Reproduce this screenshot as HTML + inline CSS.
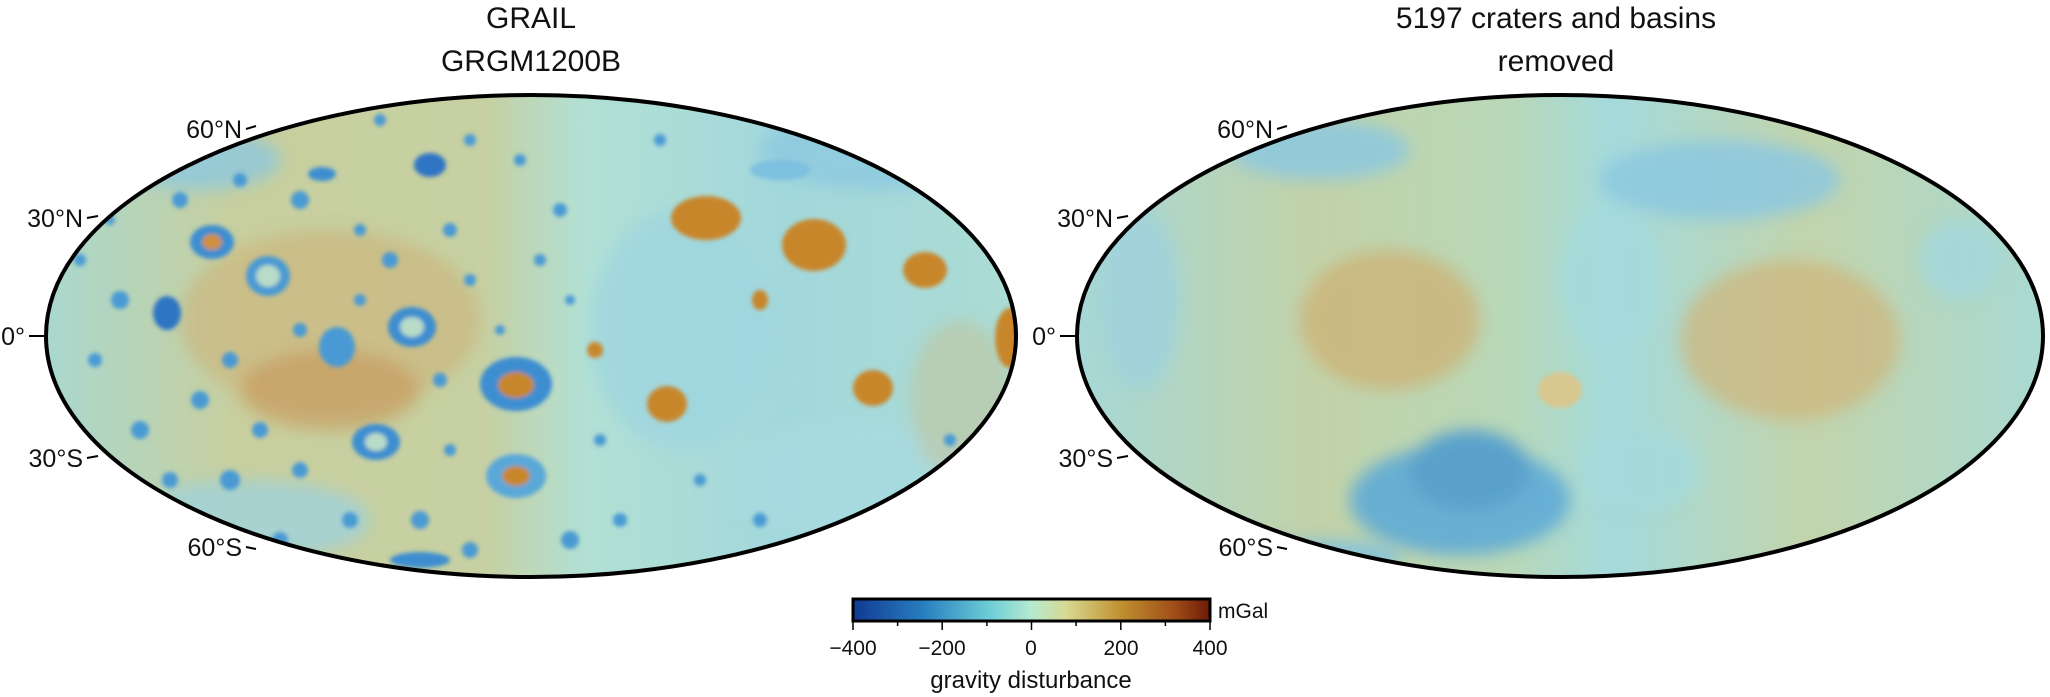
<!DOCTYPE html>
<html><head><meta charset="utf-8"><style>
html,body{margin:0;padding:0;background:#fff;}
svg{display:block;}
text{font-family:"Liberation Sans",sans-serif;fill:#111;}
</style></head><body>
<svg width="2050" height="697" viewBox="0 0 2050 697" xmlns="http://www.w3.org/2000/svg">
<defs>
<linearGradient id="cb" x1="0" x2="1" y1="0" y2="0">
<stop offset="0" stop-color="#0f3a93"/>
<stop offset="0.2" stop-color="#2a7fc0"/>
<stop offset="0.38" stop-color="#6bcdd6"/>
<stop offset="0.5" stop-color="#b5ead0"/>
<stop offset="0.6" stop-color="#d8d890"/>
<stop offset="0.75" stop-color="#c09030"/>
<stop offset="0.9" stop-color="#a04e18"/>
<stop offset="1" stop-color="#6e1a08"/>
</linearGradient>
<linearGradient id="lg1" x1="0" x2="1" y1="0" y2="0">
<stop offset="0" stop-color="#a8d8d0"/>
<stop offset="0.2" stop-color="#c8cf9e"/>
<stop offset="0.45" stop-color="#c6d0a2"/>
<stop offset="0.55" stop-color="#b2e0d4"/>
<stop offset="0.75" stop-color="#a2d8dc"/>
<stop offset="1" stop-color="#acdcd4"/>
</linearGradient>
<linearGradient id="lg2" x1="0" x2="1" y1="0" y2="0">
<stop offset="0" stop-color="#a6d8d8"/>
<stop offset="0.25" stop-color="#c2d2a8"/>
<stop offset="0.45" stop-color="#b8d8b8"/>
<stop offset="0.55" stop-color="#a4dadc"/>
<stop offset="0.75" stop-color="#c2d4ac"/>
<stop offset="1" stop-color="#a8dad4"/>
</linearGradient>
<filter id="bl"><feGaussianBlur stdDeviation="8"/></filter>
<filter id="bl2"><feGaussianBlur stdDeviation="2"/></filter>
<clipPath id="c1"><ellipse cx="531" cy="336" rx="485" ry="241"/></clipPath>
<clipPath id="c2"><ellipse cx="1560" cy="336" rx="483" ry="241"/></clipPath>
</defs>

<text x="531" y="28" font-size="30" text-anchor="middle">GRAIL</text>
<text x="531" y="71" font-size="30" text-anchor="middle">GRGM1200B</text>
<text x="1556" y="28" font-size="30" text-anchor="middle">5197 craters and basins</text>
<text x="1556" y="71" font-size="30" text-anchor="middle">removed</text>

<!-- Left map -->
<g clip-path="url(#c1)">
<rect x="40" y="90" width="990" height="495" fill="url(#lg1)"/>
<g filter="url(#bl)" opacity="0.8">
<ellipse cx="200" cy="160" rx="80" ry="30" fill="#8cc8e0"/>
<ellipse cx="880" cy="150" rx="120" ry="40" fill="#8cc8e0"/>
<ellipse cx="680" cy="330" rx="90" ry="120" fill="#9fd6e0"/>
<ellipse cx="250" cy="520" rx="120" ry="40" fill="#9fd2dc"/>
<ellipse cx="850" cy="480" rx="120" ry="60" fill="#a8dae0"/>
<ellipse cx="330" cy="320" rx="150" ry="90" fill="#cdb078" opacity="0.7"/>
<ellipse cx="330" cy="390" rx="90" ry="40" fill="#c89050" opacity="0.7"/>
<ellipse cx="960" cy="400" rx="50" ry="80" fill="#c8c090" opacity="0.6"/>
</g>
<g filter="url(#bl2)" fill="#4a9ad4">
<circle cx="120" cy="300" r="9"/><circle cx="95" cy="360" r="7"/><circle cx="140" cy="430" r="9"/>
<circle cx="180" cy="200" r="8"/><circle cx="240" cy="180" r="7"/><circle cx="300" cy="200" r="9"/>
<circle cx="360" cy="230" r="6"/><circle cx="390" cy="260" r="8"/><circle cx="450" cy="230" r="7"/>
<circle cx="470" cy="280" r="6"/><circle cx="440" cy="380" r="7"/><circle cx="360" cy="300" r="6"/>
<circle cx="300" cy="330" r="7"/><circle cx="230" cy="360" r="8"/><circle cx="200" cy="400" r="9"/>
<circle cx="260" cy="430" r="8"/><circle cx="300" cy="470" r="8"/><circle cx="230" cy="480" r="10"/>
<circle cx="170" cy="480" r="8"/><circle cx="350" cy="520" r="8"/><circle cx="420" cy="520" r="9"/>
<circle cx="470" cy="550" r="8"/><circle cx="570" cy="540" r="9"/><circle cx="620" cy="520" r="7"/>
<circle cx="600" cy="440" r="6"/><circle cx="470" cy="140" r="6"/><circle cx="520" cy="160" r="6"/>
<circle cx="560" cy="210" r="7"/><circle cx="540" cy="260" r="6"/><circle cx="80" cy="260" r="6"/>
<circle cx="110" cy="220" r="5"/><circle cx="700" cy="480" r="6"/><circle cx="760" cy="520" r="7"/>
<circle cx="820" cy="540" r="8"/><circle cx="900" cy="500" r="6"/><circle cx="950" cy="440" r="6"/>
<circle cx="660" cy="140" r="6"/><circle cx="380" cy="120" r="6"/><circle cx="500" cy="330" r="5"/>
<circle cx="570" cy="300" r="5"/><circle cx="450" cy="450" r="6"/><circle cx="280" cy="540" r="8"/>
</g>
<g filter="url(#bl2)">
<ellipse cx="706" cy="218" rx="35" ry="22" fill="#c8862a"/>
<ellipse cx="814" cy="245" rx="32" ry="26" fill="#c8862a"/>
<ellipse cx="925" cy="270" rx="22" ry="18" fill="#c8862a"/>
<ellipse cx="667" cy="404" rx="20" ry="18" fill="#c8862a"/>
<ellipse cx="873" cy="388" rx="20" ry="18" fill="#c8862a"/>
<ellipse cx="1010" cy="338" rx="15" ry="30" fill="#c8862a"/>
<ellipse cx="595" cy="350" rx="8" ry="8" fill="#c8862a"/>
<ellipse cx="760" cy="300" rx="8" ry="10" fill="#c8862a"/>
<ellipse cx="516" cy="384" rx="36" ry="27" fill="#3e8ed0"/>
<ellipse cx="516" cy="385" rx="18" ry="13" fill="#c8862a"/>
<ellipse cx="516" cy="476" rx="30" ry="22" fill="#5aa8d8"/>
<ellipse cx="516" cy="476" rx="14" ry="10" fill="#c8862a"/>
<ellipse cx="212" cy="242" rx="22" ry="17" fill="#3e8ed0"/>
<ellipse cx="212" cy="242" rx="10" ry="8" fill="#d09040"/>
<ellipse cx="268" cy="276" rx="22" ry="20" fill="#4a9ad4"/>
<ellipse cx="268" cy="276" rx="12" ry="11" fill="#b8dcc8"/>
<ellipse cx="412" cy="327" rx="24" ry="20" fill="#3e8ed0"/>
<ellipse cx="412" cy="327" rx="12" ry="10" fill="#b8dcc8"/>
<ellipse cx="337" cy="347" rx="18" ry="20" fill="#4a9ad4"/>
<ellipse cx="167" cy="313" rx="14" ry="17" fill="#2d74c4"/>
<ellipse cx="376" cy="442" rx="24" ry="18" fill="#3e8ed0"/>
<ellipse cx="376" cy="442" rx="11" ry="9" fill="#b8dcc8"/>
<ellipse cx="430" cy="165" rx="16" ry="12" fill="#2d74c4"/>
<ellipse cx="322" cy="174" rx="14" ry="7" fill="#3e8ed0"/>
<ellipse cx="420" cy="560" rx="30" ry="8" fill="#3e8ed0"/>
<ellipse cx="780" cy="170" rx="30" ry="10" fill="#7ec0e0"/>
</g>
</g>
<ellipse cx="531" cy="336" rx="485" ry="241" fill="none" stroke="#000" stroke-width="4"/>

<!-- Right map -->
<g clip-path="url(#c2)">
<rect x="1070" y="90" width="985" height="495" fill="url(#lg2)"/>
<g filter="url(#bl)" opacity="0.85">
<ellipse cx="1460" cy="500" rx="110" ry="55" fill="#5aa8d8"/>
<ellipse cx="1470" cy="470" rx="60" ry="40" fill="#4a98d0"/>
<ellipse cx="1320" cy="560" rx="80" ry="20" fill="#7ec0e0"/>
<ellipse cx="1720" cy="180" rx="120" ry="40" fill="#8cc8e0"/>
<ellipse cx="1320" cy="150" rx="90" ry="30" fill="#8cc8e0"/>
<ellipse cx="1140" cy="300" rx="40" ry="90" fill="#9fd2dc"/>
<ellipse cx="1390" cy="320" rx="90" ry="70" fill="#cfae70" opacity="0.8"/>
<ellipse cx="1790" cy="340" rx="110" ry="80" fill="#d0b478" opacity="0.8"/>
<ellipse cx="1610" cy="280" rx="50" ry="70" fill="#a4dadc"/>
<ellipse cx="1960" cy="260" rx="40" ry="40" fill="#a4d8dc"/>
<ellipse cx="1640" cy="470" rx="60" ry="40" fill="#a4dadc"/>
</g>
<ellipse cx="1560" cy="390" rx="22" ry="18" fill="#d8c890" filter="url(#bl2)"/>
</g>
<ellipse cx="1560" cy="336" rx="483" ry="241" fill="none" stroke="#000" stroke-width="4"/>

<g font-size="25" text-anchor="end">
<text x="242" y="138">60°N</text>
<text x="83" y="227">30°N</text>
<text x="25" y="345">0°</text>
<text x="83" y="467">30°S</text>
<text x="242" y="556">60°S</text>
<text x="1273" y="138">60°N</text>
<text x="1113" y="227">30°N</text>
<text x="1056" y="345">0°</text>
<text x="1113" y="467">30°S</text>
<text x="1273" y="556">60°S</text>
</g>
<g stroke="#000" stroke-width="2">
<line x1="246" y1="129" x2="256" y2="126"/>
<line x1="87" y1="218" x2="98" y2="216"/>
<line x1="29" y1="336" x2="46" y2="336"/>
<line x1="87" y1="458" x2="98" y2="456"/>
<line x1="246" y1="547" x2="256" y2="549"/>
<line x1="1277" y1="129" x2="1287" y2="126"/>
<line x1="1117" y1="218" x2="1128" y2="216"/>
<line x1="1060" y1="336" x2="1077" y2="336"/>
<line x1="1117" y1="458" x2="1128" y2="456"/>
<line x1="1277" y1="547" x2="1287" y2="549"/>
</g>

<rect x="853" y="599" width="357" height="22" fill="url(#cb)" stroke="#000" stroke-width="3"/>
<g stroke="#000" stroke-width="1.5">
<line x1="853" y1="621" x2="853" y2="630"/>
<line x1="897.6" y1="621" x2="897.6" y2="626"/>
<line x1="942.2" y1="621" x2="942.2" y2="630"/>
<line x1="986.9" y1="621" x2="986.9" y2="626"/>
<line x1="1031.5" y1="621" x2="1031.5" y2="630"/>
<line x1="1076.1" y1="621" x2="1076.1" y2="626"/>
<line x1="1120.8" y1="621" x2="1120.8" y2="630"/>
<line x1="1165.4" y1="621" x2="1165.4" y2="626"/>
<line x1="1210" y1="621" x2="1210" y2="630"/>
</g>
<g font-size="21" text-anchor="middle">
<text x="853" y="655">−400</text>
<text x="942" y="655">−200</text>
<text x="1031" y="655">0</text>
<text x="1121" y="655">200</text>
<text x="1210" y="655">400</text>
</g>
<text x="1218" y="618" font-size="21">mGal</text>
<text x="1031" y="688" font-size="24" text-anchor="middle">gravity disturbance</text>
</svg>
</body></html>
